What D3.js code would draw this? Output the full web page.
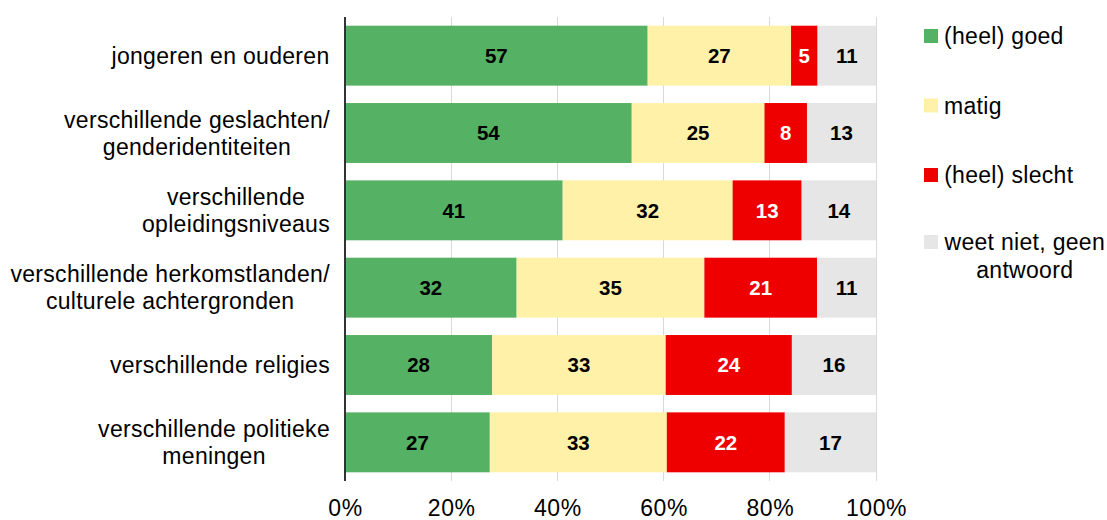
<!DOCTYPE html>
<html><head><meta charset="utf-8">
<script src="https://cdn.jsdelivr.net/npm/d3@7"></script>
<style>body{margin:0;background:#fff;} svg{display:block;} text{font-family:"Liberation Sans",Arial,sans-serif;}</style>
</head><body>
<svg id="c" width="1107" height="520"></svg>
<script>
const categories = [
  ["jongeren en ouderen"],
  ["verschillende geslachten/", "genderidentiteiten"],
  ["verschillende", "opleidingsniveaus"],
  ["verschillende herkomstlanden/", "culturele achtergronden"],
  ["verschillende religies"],
  ["verschillende politieke", "meningen"]
];
const seriesNames = [["(heel) goed"], ["matig"], ["(heel) slecht"], ["weet niet, geen", "antwoord"]];
const goed   = [57, 54, 41, 32, 28, 27];
const matig  = [27, 25, 32, 35, 33, 33];
const slecht = [5, 8, 13, 21, 24, 22];
const weet   = [11, 13, 14, 11, 16, 17];
const tickValues = [0, 0.2, 0.4, 0.6, 0.8, 1.0];
const colors = ["#55b163", "#fff2a8", "#ee0000", "#e6e6e6"];
const labelColors = ["#000", "#000", "#fff", "#000"];

const svg = d3.select("#c");
const pLeft = 345, pRight = 876, pTop = 17, pBottom = 481;
const x = d3.scaleLinear().domain([0, 1]).range([pLeft, pRight]);
const y = d3.scaleBand().domain(d3.range(categories.length)).range([pTop, pBottom]).paddingInner(0.225).paddingOuter(0.1125);

const series = [goed, matig, slecht, weet];
const rows = categories.map((c, i) => {
  const vals = series.map(s => s[i]);
  const total = d3.sum(vals);
  let acc = 0;
  return vals.map((v, k) => { const s0 = acc / total; acc += v; return {i, k, v, x0: s0, x1: acc / total}; });
});

// gridlines
svg.append("g").selectAll("line").data(tickValues.slice(1)).join("line")
  .attr("x1", d => x(d)).attr("x2", d => x(d)).attr("y1", pTop).attr("y2", pBottom)
  .attr("stroke", "#d9d9d9").attr("stroke-width", 1).attr("shape-rendering", "crispEdges");

// bars
const segs = rows.flat();
svg.append("g").selectAll("rect").data(segs).join("rect")
  .attr("x", d => x(d.x0)).attr("width", d => x(d.x1) - x(d.x0))
  .attr("y", d => y(d.i)).attr("height", y.bandwidth())
  .attr("fill", d => colors[d.k]);

svg.append("g").selectAll("text").data(segs).join("text")
  .attr("x", d => (x(d.x0) + x(d.x1)) / 2).attr("y", d => y(d.i) + y.bandwidth() / 2)
  .attr("dy", "0.36em").attr("text-anchor", "middle")
  .attr("font-size", 20.5).attr("font-weight", "bold")
  .attr("fill", d => labelColors[d.k]).text(d => d.v);

// axis line
svg.append("line").attr("x1", pLeft).attr("x2", pLeft).attr("y1", pTop).attr("y2", pBottom)
  .attr("stroke", "#333").attr("stroke-width", 1.2).attr("shape-rendering", "crispEdges");

// x axis
const xAxis = d3.axisBottom(x).tickValues(tickValues).tickFormat(d3.format(".0%")).tickSize(0).tickPadding(0);
const gx = svg.append("g").attr("transform", `translate(0, 499.5)`).call(xAxis);
gx.select(".domain").remove();
gx.selectAll("text").attr("font-size", 23).attr("fill", "#000").attr("dy", "0.72em")
  .attr("letter-spacing", 0.6)
  .style("font-family", '"Liberation Sans", Arial, sans-serif');

// category labels
const catFont = 23, lineH = 27, rightEdge = 330, ls = 0.3;
categories.forEach((lines, i) => {
  const g = svg.append("g");
  const cy = y(i) + y.bandwidth() / 2;
  const t = g.append("text").attr("font-size", catFont).attr("letter-spacing", ls).attr("fill", "#000").attr("text-anchor", "middle");
  lines.forEach((l, j) => {
    t.append("tspan").attr("x", 0).attr("y", cy + (j - (lines.length - 1) / 2) * lineH).attr("dy", "0.35em").text(l);
  });
  const w = t.node().getBBox().width;
  t.selectAll("tspan").attr("x", rightEdge - w / 2);
});

// legend
const legY = [36, 105.5, 175, 242];
seriesNames.forEach((lines, k) => {
  svg.append("rect").attr("x", 924).attr("y", legY[k] - 7).attr("width", 14).attr("height", 14).attr("fill", colors[k]);
  const t = svg.append("text").attr("font-size", 23).attr("letter-spacing", ls).attr("fill", "#000").attr("text-anchor", "middle");
  lines.forEach((l, j) => {
    t.append("tspan").attr("x", 0).attr("y", legY[k] + j * 28).attr("dy", "0.35em").text(l);
  });
  const w = t.node().getBBox().width;
  t.selectAll("tspan").attr("x", 944 + w / 2);
});
</script>
</body></html>
